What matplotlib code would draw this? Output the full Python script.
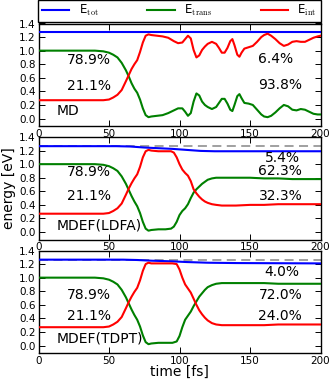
import matplotlib
matplotlib.use('Agg')
import matplotlib.pyplot as plt

plt.rcParams['mathtext.fontset'] = 'cm'
plt.rcParams['font.family'] = 'DejaVu Sans'

dbl_width = 329.0
dbl_height = 379.0
dbl_dpi = 100.0

lw = 1.5

# ---- MD ----
t_md = [0, 10, 20, 30, 40, 46, 50, 53, 56, 59, 62, 64, 66, 68, 70, 72, 74, 76, 78, 80,
        84, 88, 92, 96, 99, 102, 104, 106, 108, 110, 112, 114, 116, 118, 120, 123, 126,
        128, 130, 132, 134, 136, 137.5, 139, 141, 142.5, 144, 146, 149, 152, 155, 158,
        160, 162.5, 165, 168, 171, 174, 177, 180, 183, 186, 189, 192, 195, 198, 200]
etrans_md = [1.0, 1.0, 1.0, 1.0, 1.0, 0.99, 0.97, 0.94, 0.9, 0.82, 0.71, 0.62, 0.52, 0.44,
             0.38, 0.28, 0.15, 0.05, 0.02, 0.03, 0.04, 0.05, 0.08, 0.12, 0.15, 0.15, 0.1,
             0.04, 0.08, 0.25, 0.37, 0.34, 0.25, 0.2, 0.17, 0.14, 0.17, 0.23, 0.29, 0.29,
             0.22, 0.13, 0.11, 0.2, 0.33, 0.36, 0.3, 0.23, 0.22, 0.2, 0.13, 0.06, 0.03,
             0.02, 0.04, 0.09, 0.15, 0.2, 0.18, 0.13, 0.12, 0.14, 0.13, 0.1, 0.07, 0.06, 0.06]
eint_md = [0.27, 0.27, 0.27, 0.27, 0.27, 0.27, 0.28, 0.31, 0.35, 0.42, 0.55, 0.64, 0.73,
           0.8, 0.86, 0.98, 1.12, 1.22, 1.24, 1.23, 1.22, 1.21, 1.19, 1.14, 1.11, 1.12,
           1.17, 1.22, 1.18, 1.01, 0.9, 0.93, 1.01, 1.06, 1.1, 1.13, 1.1, 1.04, 0.97, 0.97,
           1.04, 1.14, 1.17, 1.08, 0.94, 0.91, 0.97, 1.03, 1.05, 1.07, 1.13, 1.2, 1.23,
           1.25, 1.22, 1.17, 1.11, 1.07, 1.09, 1.13, 1.14, 1.13, 1.13, 1.16, 1.19, 1.21, 1.22]
t_tot_md = [0, 200]
etot_md = [1.27, 1.27]

# ---- MDEF(LDFA) ----
t_ldfa = [0, 10, 20, 30, 40, 46, 50, 53, 56, 59, 62, 64, 66, 68, 70, 72, 74, 76, 78, 80,
          85, 90, 94, 96, 98, 100, 102, 104, 106, 108, 110, 112, 114, 116, 118, 120, 123,
          126, 130, 135, 140, 150, 160, 170, 180, 190, 200]
etrans_ldfa = [1.0, 1.0, 1.0, 1.0, 1.0, 0.99, 0.97, 0.94, 0.9, 0.82, 0.71, 0.62, 0.53, 0.45,
               0.38, 0.28, 0.15, 0.05, 0.02, 0.03, 0.04, 0.04, 0.05, 0.08, 0.15, 0.25, 0.31,
               0.35, 0.41, 0.5, 0.58, 0.63, 0.67, 0.71, 0.74, 0.77, 0.79, 0.8, 0.8, 0.8, 0.8,
               0.8, 0.79, 0.79, 0.78, 0.78, 0.78]
eint_ldfa = [0.27, 0.27, 0.27, 0.27, 0.27, 0.27, 0.28, 0.31, 0.35, 0.42, 0.55, 0.64, 0.72,
             0.79, 0.85, 0.96, 1.1, 1.19, 1.21, 1.2, 1.19, 1.19, 1.19, 1.17, 1.1, 1.0, 0.92,
             0.87, 0.83, 0.75, 0.63, 0.57, 0.52, 0.48, 0.45, 0.43, 0.41, 0.4, 0.39, 0.39,
             0.39, 0.4, 0.4, 0.41, 0.41, 0.41, 0.41]
t_tot_ldfa = [0, 55, 65, 75, 85, 95, 105, 115, 125, 200]
etot_ldfa = [1.265, 1.265, 1.26, 1.245, 1.235, 1.225, 1.21, 1.195, 1.19, 1.19]

# ---- MDEF(TDPT) ----
t_tdpt = [0, 10, 20, 30, 40, 46, 50, 53, 56, 59, 62, 64, 66, 68, 70, 72, 74, 76, 78, 80,
          85, 90, 95, 98, 100, 102, 104, 106, 108, 110, 112, 114, 116, 118, 120, 123, 126,
          130, 135, 140, 150, 160, 170, 180, 190, 200]
etrans_tdpt = [1.0, 1.0, 1.0, 1.0, 1.0, 0.99, 0.97, 0.94, 0.9, 0.82, 0.71, 0.62, 0.53, 0.45,
               0.38, 0.28, 0.15, 0.05, 0.02, 0.03, 0.04, 0.04, 0.04, 0.06, 0.14, 0.27, 0.38,
               0.44, 0.5, 0.58, 0.65, 0.72, 0.77, 0.82, 0.86, 0.89, 0.91, 0.92, 0.92, 0.92,
               0.92, 0.92, 0.91, 0.91, 0.91, 0.91]
eint_tdpt = [0.27, 0.27, 0.27, 0.27, 0.27, 0.27, 0.28, 0.31, 0.35, 0.42, 0.55, 0.64, 0.72,
             0.79, 0.85, 0.96, 1.1, 1.2, 1.22, 1.21, 1.21, 1.21, 1.21, 1.2, 1.12, 1.0, 0.9,
             0.84, 0.78, 0.69, 0.6, 0.52, 0.46, 0.41, 0.37, 0.33, 0.31, 0.3, 0.3, 0.3, 0.3,
             0.3, 0.31, 0.31, 0.31, 0.31]
t_tot_tdpt = [0, 60, 70, 80, 95, 105, 120, 140, 200]
etot_tdpt = [1.265, 1.265, 1.26, 1.25, 1.24, 1.23, 1.22, 1.215, 1.21]

e0 = 1.265

fig = plt.figure(figsize=(dbl_width / dbl_dpi, dbl_height / dbl_dpi), dpi=dbl_dpi)

left = 38.5 / dbl_width
width = (320.5 - 38.5) / dbl_width
ax_h = 102.5 / dbl_height
bottoms_px = [126.0, 239.5, 353.0]
axes = [fig.add_axes([left, 1.0 - b / dbl_height, width, ax_h]) for b in bottoms_px]

data = [(t_md, etrans_md, eint_md, t_tot_md, etot_md),
        (t_ldfa, etrans_ldfa, eint_ldfa, t_tot_ldfa, etot_ldfa),
        (t_tdpt, etrans_tdpt, eint_tdpt, t_tot_tdpt, etot_tdpt)]

for i, ax in enumerate(axes):
    t, etr, ein, tt, etot = data[i]
    if i > 0:
        ax.axhline(e0, color='0.6', lw=1.3, ls=(0, (5, 3)), zorder=1)
    ax.plot(tt, etot, color='#0000ff', lw=lw, label=r'E$_{\rm tot}$', zorder=3)
    ax.plot(t, etr, color='#008000', lw=lw, label=r'E$_{\rm trans}$', zorder=3)
    ax.plot(t, ein, color='#ff0000', lw=lw, label=r'E$_{\rm int}$', zorder=3)
    ax.set_xlim(0, 200)
    ax.set_ylim(-0.11, 1.4)
    ax.set_xticks([0, 50, 100, 150, 200])
    ax.set_yticks([0.0, 0.2, 0.4, 0.6, 0.8, 1.0, 1.2, 1.4])
    ax.tick_params(direction='in', top=True, right=True, length=4, width=0.7,
                   labelsize=7.5, pad=2)
    for s in ax.spines.values():
        s.set_linewidth(1.0)

tf = 10
# panel 1
axes[0].text(20, 0.86, '78.9%', fontsize=tf, va='center')
axes[0].text(20, 0.48, '21.1%', fontsize=tf, va='center')
axes[0].text(13, 0.11, 'MD', fontsize=tf, va='center')
axes[0].text(156, 0.87, '6.4%', fontsize=tf, va='center')
axes[0].text(156, 0.49, '93.8%', fontsize=tf, va='center')
# panel 2
axes[1].text(20, 0.88, '78.9%', fontsize=tf, va='center')
axes[1].text(20, 0.53, '21.1%', fontsize=tf, va='center')
axes[1].text(13, 0.10, 'MDEF(LDFA)', fontsize=tf, va='center')
axes[1].text(160.5, 1.09, '5.4%', fontsize=tf, va='center')
axes[1].text(156, 0.90, '62.3%', fontsize=tf, va='center')
axes[1].text(156, 0.53, '32.3%', fontsize=tf, va='center')
# panel 3
axes[2].text(20, 0.74, '78.9%', fontsize=tf, va='center')
axes[2].text(20, 0.43, '21.1%', fontsize=tf, va='center')
axes[2].text(13, 0.10, 'MDEF(TDPT)', fontsize=tf, va='center')
axes[2].text(160.5, 1.09, '4.0%', fontsize=tf, va='center')
axes[2].text(156, 0.74, '72.0%', fontsize=tf, va='center')
axes[2].text(156, 0.43, '24.0%', fontsize=tf, va='center')

axes[1].set_ylabel('energy [eV]', fontsize=10, labelpad=2)
axes[2].set_xlabel('time [fs]', fontsize=10, labelpad=-1)

# legend box spans the axes width, between the figure top and the first panel
leg_bottom = 1.0 - 20.7 / dbl_height
leg_h = 20.0 / dbl_height
handles, labs = axes[0].get_legend_handles_labels()
leg = fig.legend(handles, labs, loc='center', bbox_to_anchor=(left, leg_bottom, width, leg_h),
                 ncol=3, mode='expand', borderaxespad=0, fontsize=8.5, fancybox=False,
                 framealpha=1, edgecolor='k', handlelength=2.3, borderpad=0.3)
leg.get_frame().set_linewidth(1.0)

fig.savefig('out.png', dpi=dbl_dpi)
